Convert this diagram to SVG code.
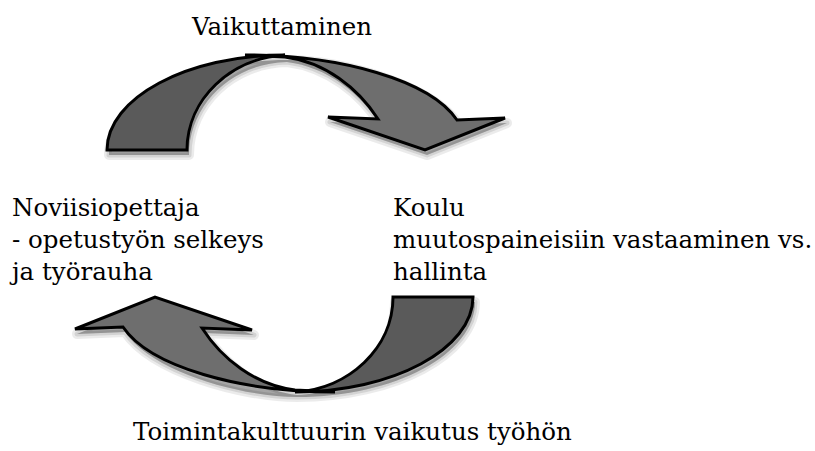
<svg xmlns="http://www.w3.org/2000/svg" width="815" height="451" viewBox="0 0 815 451">
<style>
  .lbl { font-family: "DejaVu Serif", serif; font-size: 24.5px; fill: #000; }
  .dark { fill: #5a5a5a; stroke: #000; stroke-width: 3; stroke-linejoin: miter; }
  .light { fill: #6e6e6e; stroke: #000; stroke-width: 3; stroke-linejoin: miter; }
  .sh1 { fill: #000; fill-opacity: 0.08; stroke: #000; stroke-opacity: 0.08; stroke-width: 10; stroke-linejoin: round; }
  .sh2 { fill: #000; fill-opacity: 0.1; stroke: #000; stroke-opacity: 0.1; stroke-width: 5; stroke-linejoin: round; }
  .sh3 { fill: #000; fill-opacity: 0.15; stroke: none; }
</style>
<g id="connectors">
  <g id="arrow-top">
    <g transform="translate(2,5)">
      <path class="sh1" d="M107,150 C107,98 187,55 285,55 C340,55 430,80 457,120 L505,118 L425,150 L328,117 L378,119 C358,88 325,62 285,57 C231,58 187,99 187,150 Z"/>
      <path class="sh2" d="M107,150 C107,98 187,55 285,55 C340,55 430,80 457,120 L505,118 L425,150 L328,117 L378,119 C358,88 325,62 285,57 C231,58 187,99 187,150 Z"/>
      <path class="sh3" d="M107,150 C107,98 187,55 285,55 C340,55 430,80 457,120 L505,118 L425,150 L328,117 L378,119 C358,88 325,62 285,57 C231,58 187,99 187,150 Z"/>
    </g>
    <path class="light" d="M245,55 C340,55 430,80 457,120 L505,118 L425,150 L328,117 L378,119 C358,88 325,62 285,57 Z"/>
    <path class="dark" d="M107,150 C107,98 187,55 285,55 C231,58 187,99 187,150 Z"/>
  </g>
  <g id="arrow-bottom">
    <g transform="translate(2,5)">
      <path class="sh1" d="M473,297 C473,349 393,392 295,392 C240,392 150,367 123,327 L75,329 L155,297 L252,330 L202,328 C222,359 255,385 295,390 C349,389 393,348 393,297 Z"/>
      <path class="sh2" d="M473,297 C473,349 393,392 295,392 C240,392 150,367 123,327 L75,329 L155,297 L252,330 L202,328 C222,359 255,385 295,390 C349,389 393,348 393,297 Z"/>
      <path class="sh3" d="M473,297 C473,349 393,392 295,392 C240,392 150,367 123,327 L75,329 L155,297 L252,330 L202,328 C222,359 255,385 295,390 C349,389 393,348 393,297 Z"/>
    </g>
    <path class="light" d="M335,392 C240,392 150,367 123,327 L75,329 L155,297 L252,330 L202,328 C222,359 255,385 295,390 Z"/>
    <path class="dark" d="M473,297 C473,349 393,392 295,392 C349,389 393,348 393,297 Z"/>
  </g>
</g>
<g id="label-top">
  <text class="lbl" x="192" y="35">Vaikuttaminen</text>
</g>
<g id="node-noviisi">
  <text class="lbl" x="12" y="216">Noviisiopettaja</text>
  <text class="lbl" x="12" y="248">- opetustyön selkeys</text>
  <text class="lbl" x="12" y="280">ja työrauha</text>
</g>
<g id="node-koulu">
  <text class="lbl" x="393" y="216">Koulu</text>
  <text class="lbl" x="393" y="248">muutospaineisiin vastaaminen vs.</text>
  <text class="lbl" x="393" y="280">hallinta</text>
</g>
<g id="label-bottom">
  <text class="lbl" x="133" y="440">Toimintakulttuurin vaikutus työhön</text>
</g>
</svg>
